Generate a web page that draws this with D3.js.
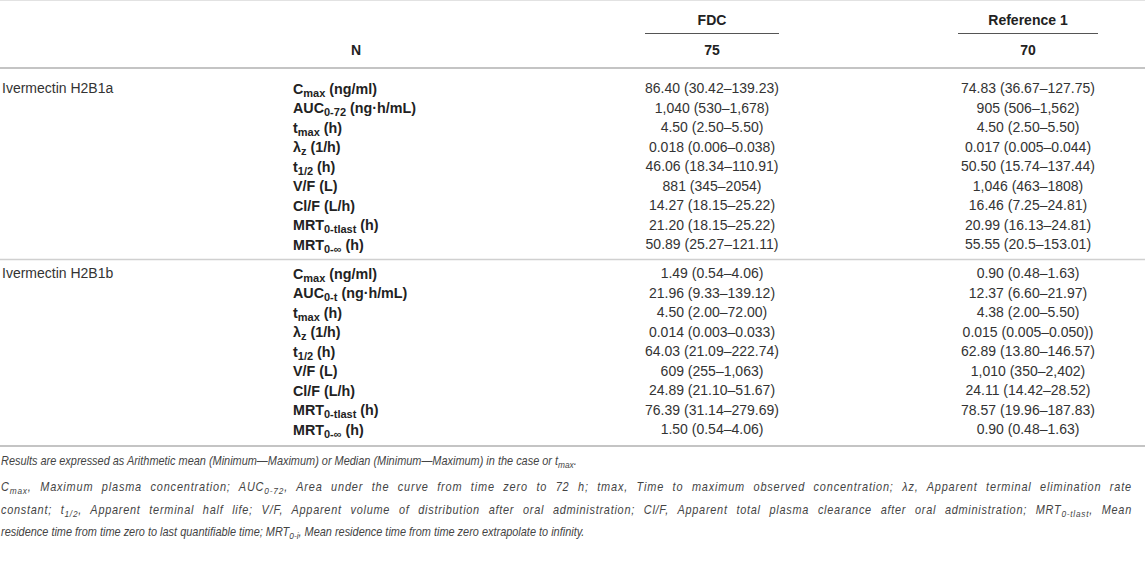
<!DOCTYPE html>
<html>
<head>
<meta charset="utf-8">
<script src="https://cdn.jsdelivr.net/npm/d3@7"></script>
<style>
  body { margin: 0; background: #fff; }
  svg { display: block; font-family: "Liberation Sans", Arial, sans-serif; }
</style>
</head>
<body>
<svg id="table" width="1145" height="569"></svg>
<script>
// column headers
const groupsHead = ["FDC", "Reference 1"];
const nValues = ["75", "70"];

// row groups
const compounds = ["Ivermectin H2B1a", "Ivermectin H2B1b"];

// parameter labels: [main, subscript, rest]
const params1 = [
  ["C", "max", " (ng/ml)"],
  ["AUC", "0-72", " (ng·h/mL)"],
  ["t", "max", " (h)"],
  ["λ", "z", " (1/h)"],
  ["t", "1/2", " (h)"],
  ["V/F (L)", "", ""],
  ["Cl/F (L/h)", "", ""],
  ["MRT", "0-tlast", " (h)"],
  ["MRT", "0-∞", " (h)"],
];
const params2 = [
  ["C", "max", " (ng/ml)"],
  ["AUC", "0-t", " (ng·h/mL)"],
  ["t", "max", " (h)"],
  ["λ", "z", " (1/h)"],
  ["t", "1/2", " (h)"],
  ["V/F (L)", "", ""],
  ["Cl/F (L/h)", "", ""],
  ["MRT", "0-tlast", " (h)"],
  ["MRT", "0-∞", " (h)"],
];

// values
const fdc1 = ["86.40 (30.42–139.23)", "1,040 (530–1,678)", "4.50 (2.50–5.50)", "0.018 (0.006–0.038)",
  "46.06 (18.34–110.91)", "881 (345–2054)", "14.27 (18.15–25.22)", "21.20 (18.15–25.22)", "50.89 (25.27–121.11)"];
const ref1 = ["74.83 (36.67–127.75)", "905 (506–1,562)", "4.50 (2.50–5.50)", "0.017 (0.005–0.044)",
  "50.50 (15.74–137.44)", "1,046 (463–1808)", "16.46 (7.25–24.81)", "20.99 (16.13–24.81)", "55.55 (20.5–153.01)"];
const fdc2 = ["1.49 (0.54–4.06)", "21.96 (9.33–139.12)", "4.50 (2.00–72.00)", "0.014 (0.003–0.033)",
  "64.03 (21.09–222.74)", "609 (255–1,063)", "24.89 (21.10–51.67)", "76.39 (31.14–279.69)", "1.50 (0.54–4.06)"];
const ref2 = ["0.90 (0.48–1.63)", "12.37 (6.60–21.97)", "4.38 (2.00–5.50)", "0.015 (0.005–0.050))",
  "62.89 (13.80–146.57)", "1,010 (350–2,402)", "24.11 (14.42–28.52)", "78.57 (19.96–187.83)", "0.90 (0.48–1.63)"];

// footnotes: segments of [text, isSubscript]
const notes = [
  [["Results are expressed as Arithmetic mean (Minimum—Maximum) or Median (Minimum—Maximum) in the case or t", 0], ["max", 1], [".", 0]],
  [["C", 0], ["max", 1], [", Maximum plasma concentration; AUC", 0], ["0-72", 1], [", Area under the curve from time zero to 72 h; tmax, Time to maximum observed concentration; λz, Apparent terminal elimination rate", 0]],
  [["constant; t", 0], ["1/2", 1], [", Apparent terminal half life; V/F, Apparent volume of distribution after oral administration; Cl/F, Apparent total plasma clearance after oral administration; MRT", 0], ["0-tlast", 1], [", Mean", 0]],
  [["residence time from time zero to last quantifiable time; MRT", 0], ["0-i", 1], [", Mean residence time from time zero extrapolate to infinity.", 0]],
];

const width = 1145;
const svg = d3.select("#table");

// column positions
const colX = d3.scaleOrdinal()
  .domain(["compound", "param", "N", "FDC", "Reference 1"])
  .range([2, 293, 356, 712, 1028]);

// row positions inside each group
const rowY = d3.scaleLinear().domain([0, 1]).range([0, 19.5]);
const groupTop = d3.scaleOrdinal().domain(compounds).range([88.5, 273.5]);

const rule = (y, color, w, x1 = 0, x2 = width) =>
  svg.append("line").attr("x1", x1).attr("x2", x2).attr("y1", y).attr("y2", y)
    .attr("stroke", color).attr("stroke-width", w);

// horizontal rules
rule(0.5, "#e2e2e2", 1);
rule(68, "#c4c4c4", 2);
rule(259.5, "#d0d0d0", 1.5);
rule(446, "#c4c4c4", 2);

// header
const head = svg.append("g").attr("font-weight", "bold").attr("font-size", 14)
  .attr("fill", "#222").attr("text-anchor", "middle");

head.selectAll("text.grp").data(groupsHead).join("text")
  .attr("class", "grp")
  .attr("x", d => colX(d)).attr("y", 20).attr("dy", "0.35em")
  .text(d => d);

svg.selectAll("line.under").data([[645, 779], [958, 1098]]).join("line")
  .attr("class", "under")
  .attr("x1", d => d[0]).attr("x2", d => d[1])
  .attr("y1", 33.5).attr("y2", 33.5)
  .attr("stroke", "#555").attr("stroke-width", 1);

head.append("text").attr("x", colX("N")).attr("y", 50).attr("dy", "0.35em").text("N");
head.selectAll("text.n").data(nValues).join("text")
  .attr("class", "n")
  .attr("x", (d, i) => colX(groupsHead[i])).attr("y", 50).attr("dy", "0.35em")
  .text(d => d);

// body
const bodyData = [
  { name: compounds[0], params: params1, cols: [fdc1, ref1] },
  { name: compounds[1], params: params2, cols: [fdc2, ref2] },
];

bodyData.forEach(g => {
  const top = groupTop(g.name);
  const grp = svg.append("g").attr("transform", `translate(0,${top})`).attr("font-size", 14);

  grp.append("text")
    .attr("x", colX("compound")).attr("y", 0).attr("dy", "0.35em")
    .attr("fill", "#333")
    .text(g.name);

  const lab = grp.selectAll("text.param").data(g.params).join("text")
    .attr("class", "param")
    .attr("x", colX("param")).attr("y", (d, i) => rowY(i)).attr("dy", "0.35em")
    .attr("font-weight", "bold").attr("font-size", 14.3).attr("fill", "#222");
  lab.append("tspan").text(d => d[0]);
  lab.filter(d => d[1]).append("tspan")
    .attr("font-size", 11).attr("dy", 3).text(d => d[1]);
  lab.filter(d => d[1]).append("tspan")
    .attr("dy", -3).text(d => d[2]);

  g.cols.forEach((vals, ci) => {
    grp.selectAll(`text.v${ci}`).data(vals).join("text")
      .attr("class", `v${ci}`)
      .attr("x", colX(groupsHead[ci])).attr("y", (d, i) => rowY(i)).attr("dy", "0.35em")
      .attr("text-anchor", "middle").attr("fill", "#333")
      .text(d => d);
  });
});

// footnotes: condensed italic, lines 2 and 3 justified to the full width
const noteY = [461, 487, 510, 532];
const justify = [false, true, true, false];
const squeeze = 0.875;
const target = 1131 / squeeze;
const foot = svg.append("g")
  .attr("transform", `scale(${squeeze},1)`)
  .attr("font-size", 12.5).attr("font-style", "italic").attr("fill", "#444");
const fl = foot.selectAll("text").data(notes).join("text")
  .attr("x", 1 / squeeze).attr("y", (d, i) => noteY[i]).attr("dy", "0.35em");
fl.each(function (segs, i) {
  const t = d3.select(this);
  let sub = false;
  segs.forEach(([txt, s]) => {
    const ts = t.append("tspan").text(txt);
    if (s && !sub) { ts.attr("font-size", 9.5).attr("dy", 2.5); sub = true; }
    else if (!s && sub) { ts.attr("dy", -2.5); sub = false; }
  });
  if (justify[i]) {
    // share the slack between letters and word gaps
    const str = segs.map(d => d[0]).join("");
    const spaces = str.split(" ").length - 1;
    const slack = target - this.getComputedTextLength();
    t.attr("letter-spacing", Math.max(0, slack * 0.55 / str.length));
    const rest = target - this.getComputedTextLength();
    t.attr("word-spacing", Math.max(0, rest / spaces));
  }
});
</script>
</body>
</html>
